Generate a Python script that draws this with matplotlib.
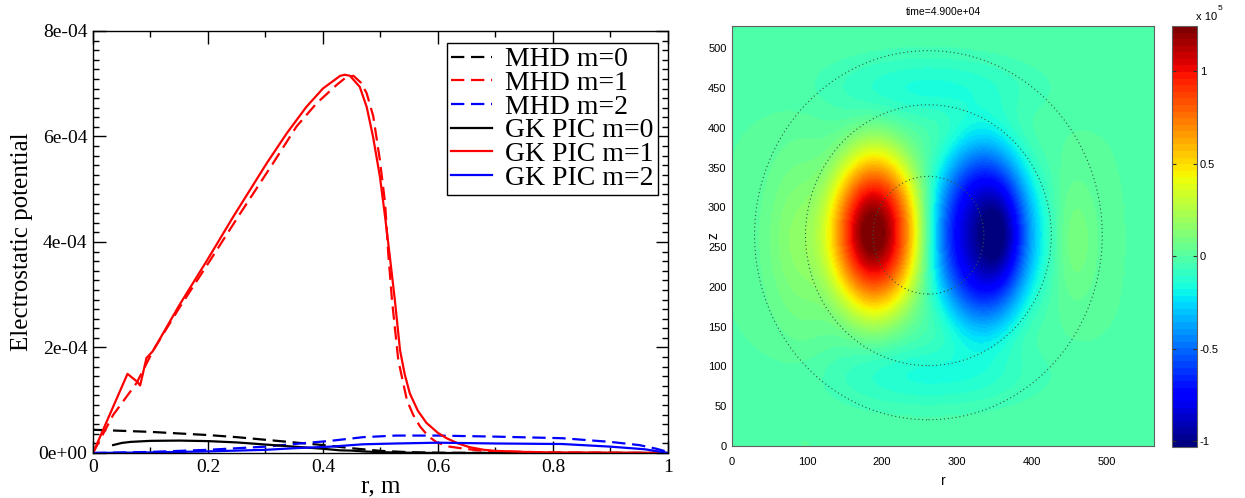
import numpy as np
import matplotlib
matplotlib.use("Agg")
import matplotlib.pyplot as plt
from matplotlib.ticker import AutoMinorLocator, FuncFormatter
from matplotlib.patches import Circle

# ---------------- left panel: radial profiles (r in m, potential in 1e-4) -------------
r_mhd0 = [0, 0.05, 0.1, 0.15, 0.2, 0.25, 0.3, 0.35, 0.4, 0.45, 0.5, 0.55, 0.6, 0.7, 0.8, 0.9, 1.0]
v_mhd0 = [0.44, 0.42, 0.40, 0.37, 0.34, 0.30, 0.25, 0.20, 0.15, 0.09, 0.04, 0.015, 0.005, 0, 0, 0, 0]

r_mhd1 = [0, 0.035, 0.076, 0.105, 0.15, 0.206, 0.256, 0.313, 0.354, 0.389, 0.424, 0.44,
          0.453, 0.466, 0.476, 0.4875, 0.499, 0.508, 0.5135, 0.52, 0.531, 0.546, 0.557,
          0.569, 0.583, 0.598, 0.62, 0.64, 0.67, 0.7, 0.8, 0.9, 1.0]
v_mhd1 = [0, 0.72, 1.33, 1.95, 2.75, 3.69, 4.54, 5.49, 6.19, 6.63, 6.98, 7.12,
          7.15, 7.02, 6.82, 6.38, 5.55, 4.74, 3.79, 2.9, 1.76, 1.0, 0.72,
          0.5, 0.32, 0.2, 0.12, 0.09, 0.05, 0.03, 0.01, 0.005, 0]

r_mhd2 = [0, 0.1, 0.2, 0.3, 0.35, 0.413, 0.47, 0.527, 0.6, 0.7, 0.816, 0.9, 0.95, 0.98, 1.0]
v_mhd2 = [0, 0.02, 0.06, 0.12, 0.17, 0.23, 0.30, 0.33, 0.33, 0.31, 0.28, 0.21, 0.15, 0.08, 0.02]

r_gk0 = [0.035, 0.05, 0.065, 0.1, 0.15, 0.2, 0.25, 0.3, 0.35, 0.4, 0.43, 0.45, 0.47, 0.5,
         0.55, 0.6, 0.7, 0.8, 0.9, 1.0]
v_gk0 = [0.15, 0.19, 0.21, 0.23, 0.235, 0.225, 0.2, 0.16, 0.12, 0.08, 0.05, 0.045, 0.03, 0.015,
         0.005, 0, 0, 0, 0, 0]

r_gk1 = [0, 0.06, 0.077, 0.082, 0.093, 0.104, 0.15, 0.2005, 0.244, 0.302, 0.337, 0.371,
         0.40, 0.43, 0.438, 0.447, 0.464, 0.476, 0.487, 0.499, 0.508, 0.516, 0.525, 0.534,
         0.542, 0.551, 0.565, 0.58, 0.6, 0.615, 0.635, 0.655, 0.68, 0.70, 0.75, 0.8, 0.9, 1.0]
v_gk1 = [0, 1.5, 1.35, 1.28, 1.8, 1.93, 2.8, 3.69, 4.48, 5.49, 6.06, 6.56,
         6.91, 7.15, 7.17, 7.15, 6.94, 6.56, 6.0, 5.24, 4.48, 3.75, 2.9, 1.95,
         1.5, 1.13, 0.8, 0.57, 0.38, 0.28, 0.18, 0.11, 0.06, 0.04, 0.02, 0.01, 0.005, 0]

r_gk2 = [0, 0.1, 0.2, 0.3, 0.35, 0.413, 0.47, 0.527, 0.6, 0.7, 0.816, 0.9, 0.96, 1.0]
v_gk2 = [0, 0.01, 0.03, 0.06, 0.09, 0.12, 0.165, 0.18, 0.195, 0.18, 0.17, 0.12, 0.07, 0]

# ---------------- right panel: poloidal snapshot, built from lobes (values in 1e5) -----
lobe_r = [190, 188, 335, 352, 262, 262, 75, 458, 105, 420]
lobe_z = [268, 268, 265, 265, 450, 88, 262, 258, 250, 262]
lobe_sr = [48, 20, 52, 22, 95, 95, 28, 22, 30, 18]
lobe_sz = [82, 35, 92, 40, 30, 30, 70, 55, 85, 60]
lobe_amp = [1.0, 0.3, -0.85, -0.25, -0.15, -0.15, 0.08, 0.10, 0.10, -0.06]
lobe_power = [3, 2, 3, 2, 2, 2, 2, 2, 2, 2]

ring_center = (262, 265)
ring_radius = [74, 164, 232]

r_max, z_max = 563, 528
cbar_min, cbar_max = -1.03, 1.245
cbar_ticks = [-1, -0.5, 0, 0.5, 1]

serif = "Liberation Serif"
sans = "Liberation Sans"

fig = plt.figure(figsize=(12.45, 4.98), dpi=100)

# ---- left: line plot
ax = fig.add_axes([0.0747, 0.0904, 0.4618, 0.8474])
lw = 1.6
dash = (6, 3)
ax.plot(r_mhd0, np.array(v_mhd0) * 1e-4, color="black", lw=lw, dashes=dash, label="MHD m=0")
ax.plot(r_mhd1, np.array(v_mhd1) * 1e-4, color="red", lw=lw, dashes=dash, label="MHD m=1")
ax.plot(r_mhd2, np.array(v_mhd2) * 1e-4, color="blue", lw=lw, dashes=dash, label="MHD m=2")
ax.plot(r_gk0, np.array(v_gk0) * 1e-4, color="black", lw=lw, label="GK PIC m=0")
ax.plot(r_gk1, np.array(v_gk1) * 1e-4, color="red", lw=lw, label="GK PIC m=1")
ax.plot(r_gk2, np.array(v_gk2) * 1e-4, color="blue", lw=lw, label="GK PIC m=2")

ax.set_xlim(0, 1)
ax.set_ylim(0, 8e-4)
ax.set_xticks([0, 0.2, 0.4, 0.6, 0.8, 1.0])
ax.set_xticklabels(["0", "0.2", "0.4", "0.6", "0.8", "1"])
ax.set_yticks([0, 2e-4, 4e-4, 6e-4, 8e-4])
ax.yaxis.set_major_formatter(FuncFormatter(lambda v, p: "%.0e" % v if v else "0e+00"))
ax.xaxis.set_minor_locator(AutoMinorLocator(2))
ax.yaxis.set_minor_locator(AutoMinorLocator(11))
ax.tick_params(which="both", direction="in", top=True, right=True, width=1.0)
ax.tick_params(which="major", length=9, labelsize=14, pad=4)
ax.tick_params(which="minor", length=4.5)
for lab in ax.get_xticklabels() + ax.get_yticklabels():
    lab.set_fontfamily(serif)
for s in ax.spines.values():
    s.set_linewidth(1.0)
ax.set_xlabel("r, m", fontsize=18, family=serif, labelpad=0)
ax.set_ylabel("Electrostatic potential", fontsize=18, family=serif, labelpad=4)

leg = ax.legend(loc="upper left", bbox_to_anchor=(0.616, 0.972), borderaxespad=0,
                prop={"family": serif, "size": 20}, fancybox=False, framealpha=1,
                edgecolor="black", handlelength=1.45, handletextpad=0.5,
                labelspacing=-0.065, borderpad=0.15)
leg.get_frame().set_linewidth(1.0)

# ---- right: field map
RR, ZZ = np.meshgrid(np.linspace(0, r_max, 300), np.linspace(0, z_max, 300))
field = np.zeros_like(RR)
for r0, z0, sr, sz, a, p in zip(lobe_r, lobe_z, lobe_sr, lobe_sz, lobe_amp, lobe_power):
    d = np.sqrt(((RR - r0) / sr) ** 2 + ((ZZ - z0) / sz) ** 2)
    field += a * np.exp(-0.5 * d ** p)

cmap = plt.get_cmap("jet", 64)
ax2 = fig.add_axes([0.588, 0.1044, 0.3389, 0.8434])
im = ax2.imshow(field, origin="lower", extent=[0, r_max, 0, z_max], aspect="auto",
                cmap=cmap, vmin=cbar_min, vmax=cbar_max, interpolation="bilinear")
for rad in ring_radius:
    ax2.add_patch(Circle(ring_center, rad, fill=False, ls=(0, (1, 2.5)), lw=0.8,
                         color="#2f5a45"))
ax2.set_xlim(0, r_max)
ax2.set_ylim(0, z_max)
ax2.set_xticks([0, 100, 200, 300, 400, 500])
ax2.set_yticks([0, 50, 100, 150, 200, 250, 300, 350, 400, 450, 500])
ax2.tick_params(length=0, labelsize=8)
ax2.tick_params(axis="x", pad=8)
ax2.tick_params(axis="y", pad=4)
for lab in ax2.get_xticklabels() + ax2.get_yticklabels():
    lab.set_fontfamily(sans)
for s in ax2.spines.values():
    s.set_color("#606060")
    s.set_linewidth(0.8)
ax2.set_xlabel("r", fontsize=10, family=sans, labelpad=5)
ax2.set_ylabel("z", fontsize=10, family=sans, rotation=90)
ax2.yaxis.set_label_coords(-0.028, 0.5)
ax2.set_title("time=4.900e+04", fontsize=7.5, family=sans, pad=8)

cax = fig.add_axes([0.9414, 0.1024, 0.02, 0.8454])
cb = fig.colorbar(im, cax=cax, ticks=cbar_ticks)
cb.ax.set_yticklabels(["-1", "-0.5", "0", "0.5", "1"])
cb.ax.tick_params(direction="in", length=3, labelsize=8, left=True, right=True,
                  color="#303030", pad=2)
for lab in cb.ax.get_yticklabels():
    lab.set_fontfamily(sans)
cb.outline.set_edgecolor("#606060")
cb.outline.set_linewidth(0.8)
fig.text(0.9606, 0.955, "x 10", fontsize=8, family=sans, ha="left", va="bottom")
fig.text(0.978, 0.976, "5", fontsize=6, family=sans, ha="left", va="bottom")

fig.savefig("out.png", dpi=100)
